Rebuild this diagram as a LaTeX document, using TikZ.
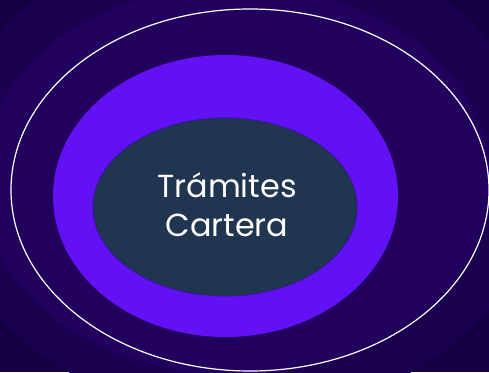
\documentclass[tikz,border=0pt]{standalone}
\usepackage{fontspec}
\newfontfamily\labelfont{Poppins}
\definecolor{bgdark}{HTML}{150042}
\definecolor{bgmid}{HTML}{1B0052}
\definecolor{bglight}{HTML}{21005E}
\definecolor{ringpurple}{HTML}{6210F4}
\definecolor{corefill}{HTML}{1F3550}
\definecolor{coreedge}{HTML}{301C8C}
\begin{document}
\begin{tikzpicture}[x=1bp,y=-1bp]%
% background, banded glow
\useasboundingbox (0,0) rectangle (489,372);
\fill[bgdark] (0,0) rectangle (489,372);
\fill[bgmid] (240,175) ellipse [x radius=300bp, y radius=240bp];
\fill[bglight] (235,180) ellipse [x radius=255bp, y radius=195bp];
% outer ring
\draw[white,line width=1.2bp] (250,190) ellipse [x radius=239bp, y radius=181bp];
% purple ring
\fill[ringpurple] (225.5,196) ellipse [x radius=172.5bp, y radius=141bp];
% core
\filldraw[fill=corefill,draw=coreedge,line width=1bp] (225,207) ellipse [x radius=132bp, y radius=89bp];
\node[text=white,align=center,font=\labelfont\fontsize{32}{39}\selectfont] (core) at (227,205) {Trámites\\Cartera};
\end{tikzpicture}
\end{document}
